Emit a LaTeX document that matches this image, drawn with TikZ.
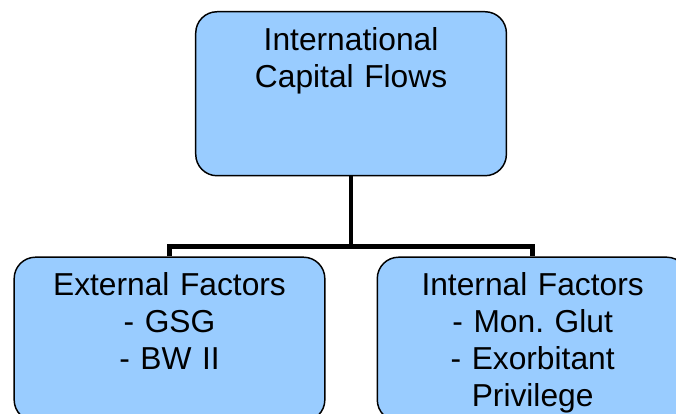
\documentclass[tikz,border=0pt]{standalone}
\usepackage{fontspec}
\setmainfont{Liberation Sans}
\usetikzlibrary{positioning}
\definecolor{boxblue}{HTML}{99CCFF}

\begin{document}
\begin{tikzpicture}[
  box/.style={draw,fill=boxblue,line width=1.1pt,rounded corners=16pt,align=center,
    text width=221pt,inner xsep=6pt,inner ysep=12pt,text height=17pt,text depth=82pt,
    font=\fontsize{23.8}{27.75}\selectfont},
  conn/.style={line width=3.6pt},node distance=60pt and 19.125pt]
\node[box] (flows) {International\\Capital Flows};
\useasboundingbox ([shift={(-146.25pt,8.25pt)}]flows.north west) rectangle ([shift={(360.75pt,-302.25pt)}]flows.north west);
\node[box,below left=of flows.south] (ext) {External Factors\\- GSG\\- BW II};
\node[box,below right=of flows.south] (int) {Internal Factors\\- Mon.\ Glut\\- Exorbitant\\Privilege};
\coordinate[above=7.5pt of int.north] (bar);
\draw[conn] (flows.south) -- (flows.south |- bar);
\draw[conn] (ext.north) |- (bar) -- (int.north);
\end{tikzpicture}
\end{document}
